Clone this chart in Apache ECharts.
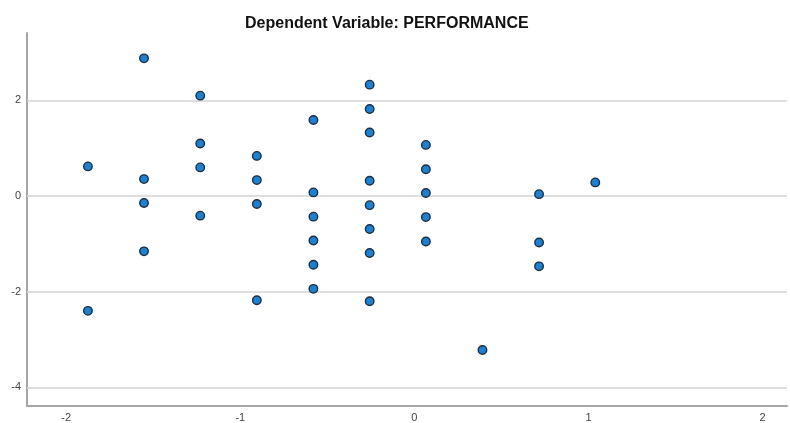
<!DOCTYPE html>
<html>
<head>
<meta charset="utf-8">
<script src="https://cdn.jsdelivr.net/npm/echarts@6/dist/echarts.min.js"></script>
<style>
html,body{margin:0;padding:0;background:#fff;}
#chart{width:790px;height:423px;}
</style>
</head>
<body>
<div id="chart"></div>
<script>
var titleText = 'Dependent Variable: PERFORMANCE';
var xValues = [-1.875,-1.875,
  -1.553,-1.553,-1.553,-1.553,
  -1.230,-1.230,-1.230,-1.230,
  -0.905,-0.905,-0.905,-0.905,
  -0.580,-0.580,-0.580,-0.580,-0.580,-0.580,
  -0.257,-0.257,-0.257,-0.257,-0.257,-0.257,-0.257,-0.257,
  0.066,0.066,0.066,0.066,0.066,
  0.391,
  0.716,0.716,0.716,
  1.039];
var yValues = [0.62,-2.40,
  2.88,0.355,-0.146,-1.156,
  2.10,1.10,0.60,-0.41,
  0.84,0.334,-0.167,-2.18,
  1.59,0.077,-0.43,-0.93,-1.435,-1.94,
  2.33,1.82,1.33,0.32,-0.19,-0.69,-1.19,-2.20,
  1.07,0.56,0.063,-0.44,-0.95,
  -3.22,
  0.04,-0.97,-1.47,
  0.286];
var gridLineValues = [-4,-2,0,2];
var xTickLabels = ['-2','-1','0','1','2'];
var yTickLabels = ['-4','-2','0','2'];

var points = xValues.map(function(x,i){return [x,yValues[i]];});
var chart = echarts.init(document.getElementById('chart'));
chart.setOption({
  animation:false,
  title:{text:titleText,left:240,top:11,
    textStyle:{fontFamily:'Liberation Sans, Arial, sans-serif',fontSize:16,fontWeight:'bold',color:'#111'}},
  grid:{left:27,right:0,top:33,bottom:17,containLabel:false},
  xAxis:{type:'value',min:-2.225,max:2.14,splitNumber:5,
    axisLine:{show:true,onZero:false,lineStyle:{color:'#a6a6a6',width:2}},
    axisTick:{show:false},splitLine:{show:false},
    axisLabel:{margin:6,fontSize:11,color:'#444',fontFamily:'Liberation Sans, Arial, sans-serif',
      formatter:function(v){var s=String(Math.round(v));return (Math.abs(v-Math.round(v))<1e-6 && xTickLabels.indexOf(s)>=0)?s:'';}}},
  yAxis:{type:'value',min:-4.39,max:3.41,splitNumber:4,
    axisLine:{show:true,onZero:false,lineStyle:{color:'#a6a6a6',width:2}},
    axisTick:{show:false},splitLine:{show:false},
    axisLabel:{margin:6,fontSize:11,color:'#444',fontFamily:'Liberation Sans, Arial, sans-serif',
      formatter:function(v){var s=String(Math.round(v));return (Math.abs(v-Math.round(v))<1e-6 && yTickLabels.indexOf(s)>=0)?s:'';}}},
  series:[{
    type:'scatter',data:points,symbol:'circle',symbolSize:8.5,
    itemStyle:{color:'#1f80cf',borderColor:'#1b2f45',borderWidth:1.4,opacity:1},
    z:3,
    markLine:{silent:true,symbol:['none','none'],label:{show:false},
      lineStyle:{color:'#d4d4d4',width:1.5,type:'solid'},
      data:gridLineValues.map(function(v){return {yAxis:v};}),z:1}
  }]
});
</script>
</body>
</html>
